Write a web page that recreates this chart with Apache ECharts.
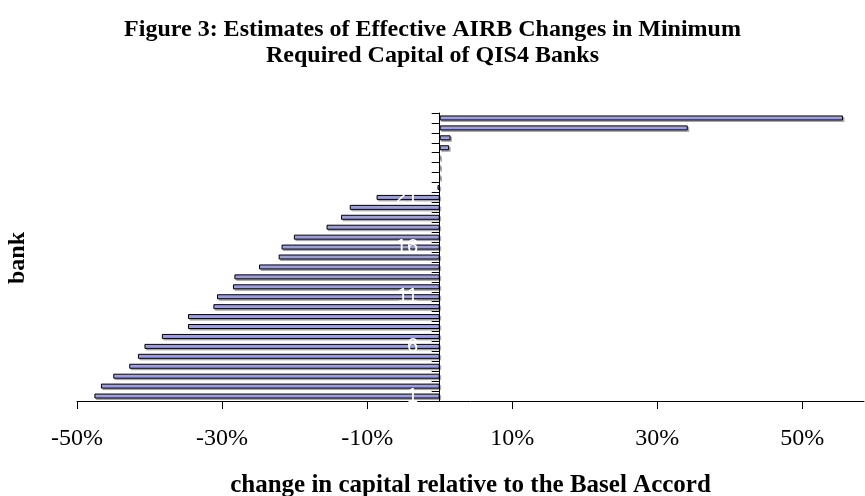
<!DOCTYPE html>
<html>
<head>
<meta charset="utf-8">
<script src="https://cdn.jsdelivr.net/npm/echarts@6/dist/echarts.min.js"></script>
<style>
html,body{margin:0;padding:0;background:#fff;}
#chart{width:865px;height:496px;}
</style>
</head>
<body>
<div id="chart"></div>
<script>
var banks = ['1','2','3','4','5','6','7','8','9','10','11','12','13','14','15','16','17','18','19','20','21','22','23','24','25','26','27','28','29'];
var changes = [-47.6,-46.7,-45.0,-42.8,-41.6,-40.7,-38.3,-34.7,-34.7,-31.2,-30.7,-28.5,-28.3,-24.9,-22.2,-21.8,-20.1,-15.6,-13.6,-12.4,-8.7,-0.3,0,0,0,1.3,1.5,34.2,55.6];
var xTicks = [-50,-30,-10,10,30,50];

var chart = echarts.init(document.getElementById('chart'), null, {renderer:'canvas'});
chart.setOption({
  animation:false,
  backgroundColor:'#fff',
  title:{
    text:'Figure 3: Estimates of Effective AIRB Changes in Minimum\nRequired Capital of QIS4 Banks',
    left:'center',
    top:12,
    textStyle:{fontFamily:'Liberation Serif',fontWeight:'bold',fontSize:24,lineHeight:26,color:'#000'}
  },
  graphic:[{
    type:'text', x:18, y:258, rotation:Math.PI/2,
    style:{text:'bank', font:'bold 24px "Liberation Serif"', fill:'#000', align:'center', verticalAlign:'middle', textAlign:'center', textVerticalAlign:'middle'}
  }],
  grid:{left:77,right:1,top:113,bottom:95,containLabel:false,outerBoundsMode:'none'},
  xAxis:{
    type:'value', min:-50, max:58.5,
    axisLine:{show:true,lineStyle:{color:'#000',width:1}},
    axisTick:{show:true,length:8,customValues:xTicks,lineStyle:{color:'#000'}},
    axisLabel:{customValues:xTicks,formatter:function(v){return v+'%';},fontFamily:'Liberation Serif',fontSize:24,color:'#000',margin:26},
    splitLine:{show:false},
    name:'change in capital relative to the Basel Accord',
    nameLocation:'middle', nameGap:72,
    nameTextStyle:{fontFamily:'Liberation Serif',fontWeight:'bold',fontSize:25,color:'#000'}
  },
  yAxis:{
    type:'category', data:banks, z:10, zlevel:1,
    axisLine:{show:true,onZero:true,lineStyle:{color:'#000',width:1}},
    axisTick:{show:true,interval:0,alignWithLabel:false,length:8,lineStyle:{color:'#000'}},
    axisLabel:{interval:4,color:'#ffffff',fontFamily:'Liberation Sans',fontSize:20,margin:-341},
    splitLine:{show:false}
  },
  series:[{
    type:'bar', data:changes, barWidth:5,
    itemStyle:{color:'#9999ff',borderColor:'#000',borderWidth:1,shadowColor:'#a6a6a6',shadowOffsetX:1.5,shadowOffsetY:1.5,shadowBlur:0}
  }]
});
</script>
</body>
</html>
